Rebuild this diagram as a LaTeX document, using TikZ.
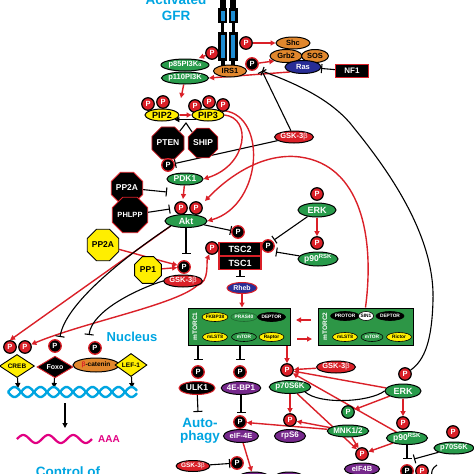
\documentclass[tikz,border=0pt]{standalone}
\usepackage{fontspec}
\setmainfont{Liberation Sans}
\usetikzlibrary{shapes.geometric,arrows.meta}
\definecolor{rR}{RGB}{218,32,40}
\definecolor{gG}{RGB}{40,155,75}
\definecolor{mG}{RGB}{45,150,70}
\definecolor{oO}{RGB}{225,135,45}
\definecolor{yY}{RGB}{255,238,0}
\definecolor{pP}{RGB}{118,40,140}
\definecolor{nN}{RGB}{40,45,150}
\definecolor{cC}{RGB}{0,165,225}
\definecolor{mM}{RGB}{225,0,130}
\definecolor{bB}{RGB}{30,140,210}
\newcommand{\myfs}[1]{\fontsize{#1}{#1}\selectfont}
\newcommand{\mybeta}{{\color{rR!35!white}β}}
\pgfdeclarelayer{bg}
\pgfsetlayers{bg,main}
\tikzset{
 sz/.style 2 args={minimum width=#1pt, minimum height=#2pt},
 ell/.style={ellipse, draw=black, line width=1pt, inner sep=0pt, font=\bfseries\myfs{8.5}},
 gE/.style={ell, fill=gG, text=white},
 oE/.style={ell, fill=oO, text=black},
 yE/.style={ell, fill=yY, text=black},
 rE/.style={ell, fill=rR, text=white},
 pE/.style={ell, fill=pP, text=white},
 kE/.style={ell, fill=black, draw=rR, text=white},
 nE/.style={ell, fill=nN, text=white},
 sub/.style={ellipse, draw=black, line width=0.6pt, inner sep=0pt, minimum width=25pt, minimum height=9pt, font=\bfseries\myfs{4.8}},
 pr/.style={circle, fill=rR, draw=black, line width=1.2pt, minimum size=12.5pt, inner sep=0pt, text=white, font=\bfseries\myfs{7.5}},
 pb/.style={pr, fill=black, draw=rR, line width=1.3pt},
 pg/.style={pr, fill=gG},
 octB/.style={regular polygon, regular polygon sides=8, fill=black, draw=rR, line width=0.8pt, text=white, inner sep=0pt, font=\bfseries\myfs{8.5}},
 octY/.style={regular polygon, regular polygon sides=8, fill=yY, draw=black, line width=0.8pt, text=black, inner sep=0pt, font=\bfseries\myfs{8.5}},
 dia/.style={diamond, inner sep=0pt, line width=0.9pt, font=\bfseries\myfs{6.5}},
 tscbox/.style={rectangle, fill=black, draw=rR, line width=1.3pt, text=white, minimum width=42pt, minimum height=13pt, inner sep=0pt, font=\bfseries\myfs{9}},
 cyanlab/.style={text=cC, inner sep=0pt, font=\bfseries\myfs{13.5}},
 ra/.style={draw=rR, line width=1.4pt, -{Triangle[length=5pt,width=5pt]}},
 bt/.style={draw=black, line width=1.1pt, -{Bar[width=9pt]}},
 ba/.style={draw=black, line width=1.1pt, -{Triangle[length=5pt,width=5pt]}},
 bl/.style={draw=black, line width=1.1pt}
}
\begin{document}
\begin{tikzpicture}[x=1pt,y=-1pt]
\useasboundingbox (0,0) rectangle (474,474);
% receptor
\foreach \cx in {222.5,233}{
  \fill[black] (\cx-3,-2) rectangle (\cx+3,8);
  \fill[black] (\cx-4.5,8) rectangle (\cx+4.5,23);
  \fill[bB] (\cx-2,10.5) rectangle (\cx+2,20.5);
  \fill[black] (\cx-1.5,23) rectangle (\cx+1.5,32);
  \fill[black] (\cx-4.5,32) rectangle (\cx+4.5,61);
  \fill[bB] (\cx-2,35) rectangle (\cx+2,58);
  \fill[black] (\cx-2,61) rectangle (\cx+2,66);
}
\node[cyanlab, anchor=base] (gfr1) at (176,4) {Activated};
\node[cyanlab, anchor=base] (gfr2) at (176,20) {GFR};

% top
\node[pr] (precr) at (246,43) {P};
\node[pr] (precl) at (212,53) {P};
\node[oE, sz={34}{12}, font=\bfseries\myfs{7.5}] (shc) at (293,43) {Shc};
\node[oE, sz={32}{13}, font=\bfseries\myfs{7.5}] (grb2) at (286,56) {Grb2};
\node[oE, sz={27}{13}, font=\bfseries\myfs{7.5}] (sos) at (315,56) {SOS};
\node[nE, sz={36}{13}, font=\bfseries\myfs{7.5}] (ras) at (303,67) {Ras};
\node[tscbox, sz={33}{13}, font=\bfseries\myfs{8}] (nf1) at (352,71) {NF1};
\node[oE, sz={33}{12}, font=\bfseries\myfs{7.5}] (irs1) at (230,71) {IRS1};
\node[pb] (pirs) at (252,64) {P};
\node[gE, sz={48}{12}, font=\bfseries\myfs{7.5}] (p85) at (185,65) {p85PI3K{\myfs{5}α}};
\node[gE, sz={46}{12}, font=\bfseries\myfs{7.5}] (p110) at (185,78) {p110PI3K};
\coordinate (p85t) at (199,58);
\coordinate (pipt) at (181,98);
\coordinate (irsj) at (262,71);

% PIP
\node[pr] (pa) at (148,104) {P};
\node[pr] (pb2) at (163,102) {P};
\node[pr] (pc) at (195,106) {P};
\node[pr] (pd) at (209,102) {P};
\node[pr] (pe) at (223,105) {P};
\node[yE, sz={34}{12}, font=\bfseries\myfs{9}] (pip2) at (162,115) {PIP2};
\node[yE, sz={32}{12}, font=\bfseries\myfs{9}] (pip3) at (208,115) {PIP3};
\node[octB, minimum size=32pt] (pten) at (168,143) {PTEN};
\node[octB, minimum size=32pt] (ship) at (203,143) {SHIP};
\coordinate (jn) at (186,123);
\node[pb] (ppten) at (168,165) {P};
\node[rE, sz={38}{12}, font=\bfseries\myfs{7.5}] (gsk1) at (294,137) {GSK-3\mybeta};

% PDK1 / Akt
\node[gE, sz={36}{12}] (pdk1) at (185,179) {PDK1};
\node[octB, minimum size=29pt] (pp2ab) at (127,188) {PP2A};
\node[octB, minimum size=33pt, font=\bfseries\myfs{7.5}] (phlpp) at (130,215) {PHLPP};
\node[pr] (pakt1) at (181,208) {P};
\node[pr] (pakt2) at (196,208) {P};
\node[gE, sz={42}{13}, font=\bfseries\myfs{9}] (akt) at (186,221) {Akt};
\coordinate (aktt) at (183,199);
\coordinate (aktr) at (205,201);
\coordinate (bar1) at (167,192);
\coordinate (bar2) at (170,209);

% TSC
\node[tscbox] (tsc2) at (240,249) {TSC2};
\node[tscbox] (tsc1) at (240,263) {TSC1};
\node[pb] (ptsct) at (238,232) {P};
\node[pr] (ptscl) at (212,248) {P};
\node[pb] (ptscr) at (268,246) {P};
\coordinate (bar3) at (186,254);
\coordinate (bar4) at (274,240);
\coordinate (bar5) at (276,252);
\coordinate (bar6) at (240,277);

% ERK mid
\node[pr] (perk1) at (317,194) {P};
\node[gE, sz={38}{14}, font=\bfseries\myfs{9}] (erk1) at (317,210) {ERK};
\node[pr] (prsk1) at (317,243) {P};
\node[gE, sz={40}{14}] (rsk1) at (318,259) {p90\textsuperscript{RSK}};

% phosphatases, GSK
\node[octY, minimum size=32pt] (pp2ay) at (103,245) {PP2A};
\node[octY, minimum size=29pt] (pp1) at (148,270) {PP1};
\node[pb] (pgsk2) at (184,267) {P};
\node[rE, sz={35}{12}, font=\bfseries\myfs{7.5}] (gsk2) at (183,281) {GSK-3\mybeta};
\node[nE, draw=rR, sz={30}{11}, font=\bfseries\myfs{7}] (rheb) at (242,288) {Rheb};

% mTORC
\node[draw=black, fill=mG, line width=1pt, sz={102}{37}] (mtorc1) at (239,326.5) {};
\node[text=white, rotate=90, inner sep=0pt, font=\bfseries\myfs{6.5}] (m1lab) at (195,326.5) {mTORC1};
\node[sub, fill=yY] (fkbp) at (215,317) {FKBP38};
\node[sub, fill=mG, draw=mG!70!black, text=white] (pras) at (244,317) {PRAS40};
\node[sub, fill=black, text=white] (dep1) at (271.5,317) {DEPTOR};
\node[sub, fill=yY] (mls1) at (215,337) {mLST8};
\node[sub, fill=mG, text=white] (mtor1) at (244,337) {mTOR};
\node[sub, fill=yY] (rapt) at (271.5,337) {Raptor};
\node[draw=black, fill=mG, line width=1pt, sz={95}{37}] (mtorc2) at (365.5,326.5) {};
\node[text=white, rotate=90, inner sep=0pt, font=\bfseries\myfs{6.5}] (m2lab) at (325,326.5) {mTORC2};
\node[sub, fill=black, text=white] (prot) at (345,316) {PROTOR};
\node[sub, fill=white, minimum width=15pt] (sin1) at (366,316) {SIN1};
\node[sub, fill=black, text=white] (dep2) at (390,316) {DEPTOR};
\node[sub, fill=yY] (mls2) at (345,337) {mLST8};
\node[sub, fill=mG, text=white, minimum width=22pt] (mtor2) at (372,337) {mTOR};
\node[sub, fill=yY] (rict) at (399,337) {Rictor};
\coordinate (a1) at (311,320);
\coordinate (a2) at (296,320);
\coordinate (a3) at (297,339);
\coordinate (a4) at (312,339);

% under mTORC1
\node[pb] (pulk) at (198,372) {P};
\node[kE, sz={36}{13}] (ulk1) at (197,388) {ULK1};
\node[pb] (p4ebp) at (240,372) {P};
\node[pE, sz={38}{13}, font=\bfseries\myfs{8}] (ebp) at (241,388) {4E-BP1};
\coordinate (bar7) at (198,360);
\coordinate (bar8) at (240,360);
\coordinate (bar9) at (198,412);
\coordinate (bar10) at (241,413);
\node[cyanlab] (auto1) at (200,423) {Auto-};
\node[cyanlab] (auto2) at (200,437) {phagy};

% S6K / ERK bottom
\node[rE, sz={38}{12}, font=\bfseries\myfs{7.5}] (gsk3) at (336,367) {GSK-3\mybeta};
\node[pr] (pp70) at (287,370) {P};
\node[gE, sz={41}{13}, font=\bfseries\myfs{8}] (p70) at (290,387) {p70S6K};
\node[pr] (perk2) at (405,374) {P};
\node[gE, sz={36}{14}, font=\bfseries\myfs{9}] (erk2) at (403,391) {ERK};
\node[pg] (pgreen) at (348,412) {P};
\node[pr] (prsk2) at (403,423) {P};
\node[gE, sz={41}{13}] (rsk2) at (407,438) {p90\textsuperscript{RSK}};
\node[gE, sz={38}{12}, font=\bfseries\myfs{8}] (mnk) at (348,431) {MNK1/2};
\node[pr] (prps6) at (290,420) {P};
\node[pE, sz={31}{13}, font=\bfseries\myfs{8}] (rps6) at (290,436) {rpS6};
\node[pb] (peif4e) at (240,422) {P};
\node[pE, sz={35}{13}, font=\bfseries\myfs{7.5}] (eif4e) at (241,436) {eIF-4E};
\node[pr] (peif4b) at (362,454) {P};
\node[pE, sz={35}{12}, font=\bfseries\myfs{7.5}] (eif4b) at (362,469) {eIF4B};
\node[pr] (pp70b) at (453,432) {P};
\node[gE, sz={40}{12}, font=\bfseries\myfs{7.5}] (p70b) at (454,448) {p70S6K};
\coordinate (bar11) at (407,459);
\coordinate (bar12) at (414,459);
\node[pb] (pbot1) at (407,471) {P};
\node[pr] (pbot2) at (422,471) {P};
\draw[bl] (437,465) .. controls (432,468) and (431,472) .. (432,476);
\node[rE, sz={32}{11}, font=\bfseries\myfs{6.5}] (gsk4) at (193,466) {GSK-3\mybeta};
\node[pb] (pgsk4) at (237,463) {P};
\node[pE, sz={34}{14}] (pu1) at (254,479) {};
\node[pE, sz={32}{14}] (pu2) at (289,479) {};

% nucleus
\node[cyanlab, font=\bfseries\myfs{13}] (nuc) at (132,337) {Nucleus};
\node[pr] (pcreb1) at (10,347) {P};
\node[pr] (pcreb2) at (25,347) {P};
\node[dia, fill=yY, draw=black, sz={35}{17}] (creb) at (17,366) {CREB};
\node[pb] (pfoxo) at (55,346) {P};
\node[dia, fill=black, draw=rR, text=white, sz={36}{20}, font=\bfseries\myfs{7}] (foxo) at (55,367) {Foxo};
\node[pb] (pbcat) at (95,348) {P};
\node[oE, sz={46}{14}, font=\bfseries\myfs{6.5}] (bcat) at (96,365) {{\color{rR}β}-catenin};
\node[dia, fill=yY, draw=black, sz={32}{23}] (lef1) at (131,365) {LEF-1};
\coordinate (barfox) at (60,337);
\coordinate (barbcat) at (89,335);
\coordinate (dna1) at (18,388);
\coordinate (dna2) at (54,388);
\coordinate (dna3) at (132,388);
\coordinate (dnab) at (65,403);
\coordinate (mrnat) at (65,428);
\draw[cC, line width=2.4pt, domain=8:137, samples=120, smooth] plot (\x, {392+5*sin((\x-8)*13.846)});
\draw[cC, line width=2.4pt, domain=8:137, samples=120, smooth] plot (\x, {392-5*sin((\x-8)*13.846)});
\draw[mM, line width=2.2pt, domain=17:92, samples=80, smooth] plot (\x, {439-4*sin((\x-17)*14.4)});
\node[text=mM, inner sep=0pt, font=\bfseries\myfs{10}] (aaa) at (109,439) {AAA};
\node[cyanlab, anchor=base] (ctrl) at (68,476) {Control of};

\begin{pgfonlayer}{bg}
\draw[ra] (precr) -- (shc);
\draw[ra] (precl) -- (p85t);
\draw[ra] (pirs) -- (grb2.south west);
\draw[ra] (ras.south west) -- (p110.east);
\draw[bt] (nf1) -- (ras);
\draw[ra] (p110) -- (pipt);
\draw[ra] (pip2) -- (pip3);
\draw[ba] (pip3.south west) -- (pip2.south east);
\draw[bl] (pten.north east) -- (jn) -- (ship.north west);
\draw[bt] (gsk1) -- (ppten);
\draw[bt] (gsk1) -- (irsj);
\draw[bt] (perk2) .. controls (425,360) and (432,340) .. (433,300) .. controls (435,230) and (380,160) .. (350,123) .. controls (330,100) and (300,85) .. (irsj);
\draw[ra] (pip3.east) .. controls (252,118) and (248,165) .. (pdk1.east);
\draw[ra] (pip3.north east) .. controls (268,110) and (264,205) .. (akt.east);
\draw[ra] (pdk1) -- (aktt);
\draw[bt] (pp2ab) -- (bar1);
\draw[bt] (phlpp) -- (bar2);
\draw[ra] (mtorc2.north) .. controls (375,235) and (360,165) .. (300,157) .. controls (260,152) and (225,180) .. (aktr);
\draw[bt] (akt) -- (ptsct);
\draw[bt] (akt.south) -- (bar3);
\draw[bt] (erk1) -- (bar4);
\draw[bt] (rsk1) -- (bar5);
\draw[ra] (erk1) -- (prsk1);
\draw[ra] (pp2ay) -- (pgsk2);
\draw[ra] (pp1) -- (pgsk2);
\draw[ra] (gsk2.south east) .. controls (210,282) and (206,262) .. (ptscl);
\draw[ra] (gsk2.south east) .. controls (175,305) and (85,322) .. (pcreb2);
\draw[ra] (akt.south west) -- (pcreb1.north);
\draw[bt] (akt.south west) .. controls (120,260) and (65,305) .. (barfox);
\draw[bt] (gsk2.west) .. controls (140,288) and (92,310) .. (barbcat);
\draw[ba] (creb) -- (dna1);
\draw[ba] (foxo) -- (dna2);
\draw[ba] (lef1) -- (dna3);
\draw[ba] (dnab) -- (mrnat);
\draw[bt] (tsc1) -- (bar6);
\draw[ra] (rheb) -- (rheb |- mtorc1.north);
\draw[ra] (a1) -- (a2);
\draw[ra] (a3) -- (a4);
\draw[bt] (pulk |- mtorc1.south) -- (bar7);
\draw[bt] (p4ebp |- mtorc1.south) -- (bar8);
\draw[ra] (pp70 |- mtorc1.south) -- (pp70);
\draw[bt] (ulk1) -- (bar9);
\draw[bt] (ebp) -- (bar10);
\draw[ra] (gsk3) -- (pp70);
\draw[ra] (erk2) -- (pp70);
\draw[ra] (rsk2) -- (pp70);
\draw[ra] (erk2) -- (pgreen);
\draw[ra] (erk2) -- (prsk2);
\draw[ra] (p70) -- (prps6);
\draw[ra] (p70) -- (peif4b);
\draw[ra] (mnk) -- (prps6);
\draw[ra] (mnk) -- (peif4e);
\draw[ra] (mnk) -- (peif4b);
\draw[ra] (rsk2) -- (peif4b);
\draw[bl] (p70.south east) .. controls (320,405) and (370,402) .. (erk2.west);
\draw[ra] (eif4e) -- (pu1);
\draw[bt] (gsk4) -- (pgsk4);
\draw[bt] (rsk2) -- (bar11);
\draw[bt] (p70b) -- (bar12);
\end{pgfonlayer}
\end{tikzpicture}
\end{document}
